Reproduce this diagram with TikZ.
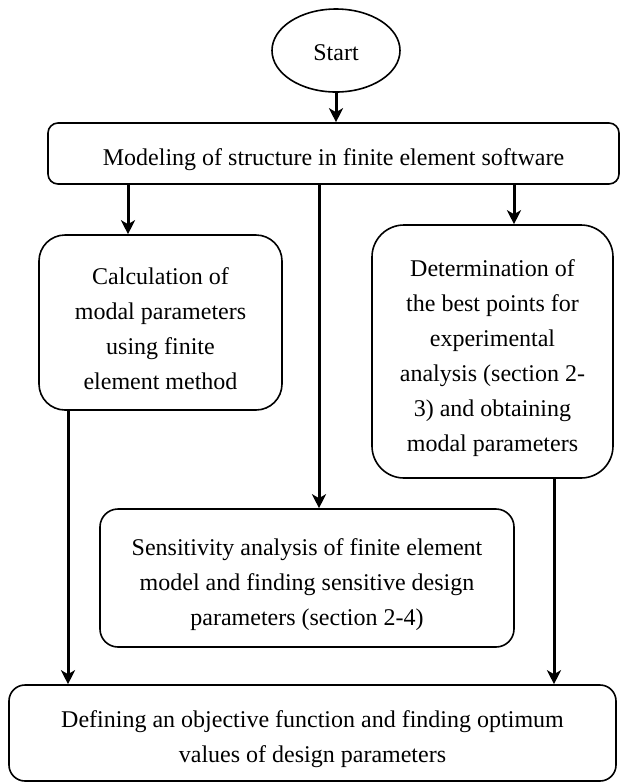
\documentclass[tikz,border=0pt]{standalone}
\usepackage{fontspec}
\setmainfont{Liberation Serif}
\usetikzlibrary{arrows.meta,shapes.geometric}
\newcommand{\topgap}{\rule{0pt}{15pt}}

\begin{document}
\begin{tikzpicture}[x=1pt,y=1pt,
    box/.style={draw, line width=0.8pt, align=center, inner sep=0pt, font=\fontsize{12}{17.5}\selectfont},
    arr/.style={line width=1.5pt, -{Stealth[length=7pt,width=7pt,inset=2pt]}}]
    \useasboundingbox (0,0) rectangle (310,-392);

    \node[box, ellipse, minimum width=64pt, minimum height=41.5pt] (start) at (168,-25.25) {\rule{0pt}{10pt}Start};
    \node[box, rounded corners=5pt, minimum width=285.5pt, minimum height=30.5pt] (model) at (166.75,-76.75)
        {\topgap Modeling of structure in finite element software};
    \node[box, rounded corners=13pt, minimum width=121.5pt, minimum height=87.5pt] (calc) at (80.25,-161.25)
        {\topgap Calculation of\\modal parameters\\using finite\\element method};
    \node[box, rounded corners=16pt, minimum width=120.5pt, minimum height=126.5pt] (detm) at (246.25,-175.75)
        {\topgap Determination of\\the best points for\\experimental\\analysis (section 2-\\3) and obtaining\\modal parameters};
    \node[box, rounded corners=9pt, minimum width=207pt, minimum height=69pt] (sens) at (153.5,-289)
        {\topgap Sensitivity analysis of finite element\\model and finding sensitive design\\parameters (section 2-4)};
    \node[box, rounded corners=8pt, minimum width=303.5pt, minimum height=48pt] (objf) at (156.25,-366.5)
        {\topgap Defining an objective function and finding optimum\\values of design parameters};

    \coordinate (xcalc) at (64,0);
    \coordinate (xsens) at (159.5,0);
    \coordinate (xdetm) at (257,0);
    \coordinate (xleft) at (34,0);
    \coordinate (xright) at (277,0);

    \draw[arr] (start.south) -- (start.south |- model.north);
    \draw[arr] (model.south -| xcalc) -- (calc.north -| xcalc);
    \draw[arr] (model.south -| xsens) -- (sens.north -| xsens);
    \draw[arr] (model.south -| xdetm) -- (detm.north -| xdetm);
    \draw[arr] (calc.south -| xleft) -- (objf.north -| xleft);
    \draw[arr] (detm.south -| xright) -- (objf.north -| xright);
\end{tikzpicture}
\end{document}
